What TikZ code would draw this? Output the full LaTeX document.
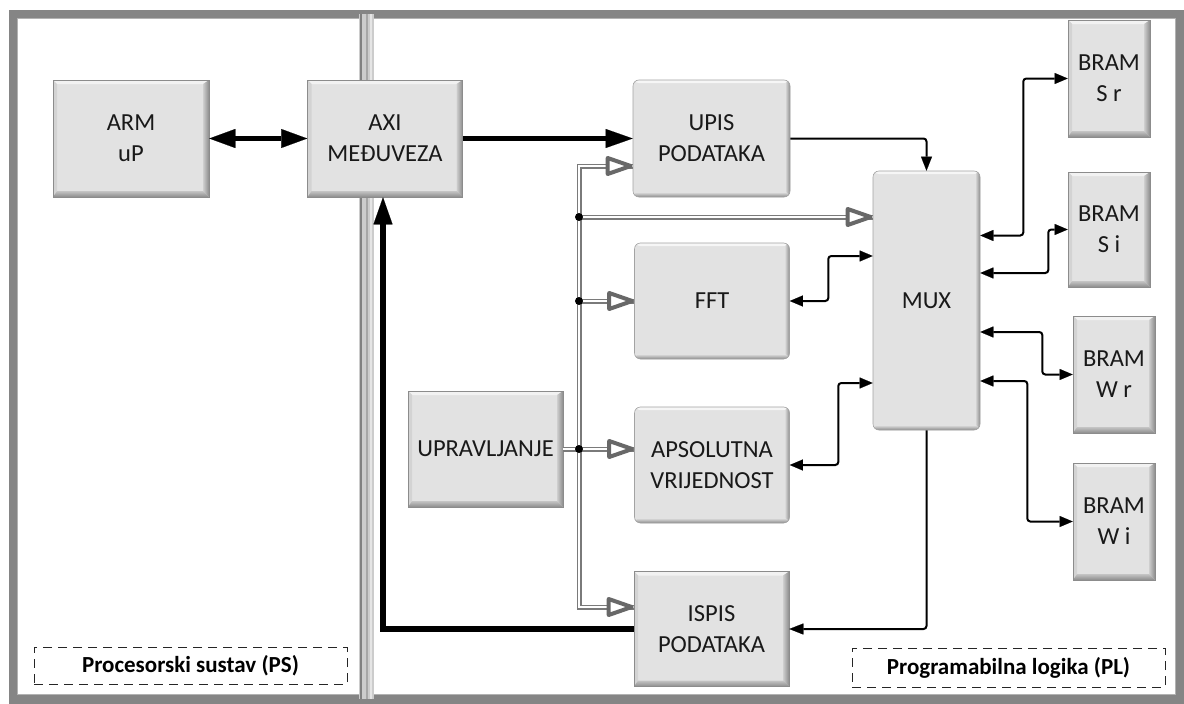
\documentclass[tikz,border=0pt]{standalone}
\usepackage{fontspec}
\setmainfont{Carlito}
\usetikzlibrary{arrows.meta}

\definecolor{face}{HTML}{E2E2E2}
\definecolor{edgegray}{HTML}{8C8C8C}
\definecolor{framegray}{HTML}{858585}
\definecolor{busgray}{HTML}{7A7A7A}
\definecolor{tipgray}{HTML}{686868}

% bevelled (chamfered) block: light top/left, dark right/bottom
\newcommand\bevelbands{%
  \fill[white!55!face] (path picture bounding box.north west) -- (path picture bounding box.north east)
    -- ([xshift=-6pt,yshift=-4pt]path picture bounding box.north east) -- ([xshift=4pt,yshift=-4pt]path picture bounding box.north west) -- cycle;
  \fill[face!85!gray] (path picture bounding box.north west) -- ([xshift=4pt,yshift=-4pt]path picture bounding box.north west)
    -- ([xshift=4pt,yshift=6pt]path picture bounding box.south west) -- (path picture bounding box.south west) -- cycle;
  \shade[left color=face!80!gray, right color=edgegray] (path picture bounding box.north east) -- (path picture bounding box.south east)
    -- ([xshift=-6pt,yshift=6pt]path picture bounding box.south east) -- ([xshift=-6pt,yshift=-4pt]path picture bounding box.north east) -- cycle;
  \shade[top color=face!70!gray, bottom color=edgegray] (path picture bounding box.south west) -- ([xshift=4pt,yshift=6pt]path picture bounding box.south west)
    -- ([xshift=-6pt,yshift=6pt]path picture bounding box.south east) -- (path picture bounding box.south east) -- cycle;
}
% soft rounded block: top highlight, shaded right and bottom edges
\newcommand\softbands{%
  \fill[white!70!face] (path picture bounding box.north west) rectangle ([yshift=-3pt]path picture bounding box.north east);
  \shade[left color=face, right color=edgegray] ([xshift=-5pt]path picture bounding box.north east) rectangle (path picture bounding box.south east);
  \shade[top color=face, bottom color=edgegray] ([yshift=5pt]path picture bounding box.south west) rectangle (path picture bounding box.south east);
}

\tikzset{
  blocktext/.style={font=\fontsize{24.5}{31}\selectfont, align=center, text=black!90, inner sep=0pt},
  bevelblock/.style={blocktext, fill=face, draw=edgegray, line width=0.6pt, path picture={\bevelbands}},
  softblock/.style={blocktext, fill=face, draw=edgegray!80, line width=0.6pt, rounded corners=6pt, path picture={\softbands}},
  tag/.style={draw=black!85, line width=0.8pt, dash pattern=on 9pt off 6pt, inner sep=0pt,
    font=\fontsize{23}{27}\selectfont\bfseries, text=black},
  heavy/.style={line width=5.5pt, -{Triangle[length=27pt,width=19pt,line width=0.1pt]}},
  heavyboth/.style={line width=5.5pt, {Triangle[length=26pt,width=19pt,line width=0.1pt]}-{Triangle[length=26pt,width=19pt,line width=0.1pt]}},
  wire/.style={line width=2pt, rounded corners=3pt, -{Triangle[length=14pt,width=11pt,line width=0.1pt]}},
  wireboth/.style={line width=2pt, rounded corners=3pt, {Triangle[length=13pt,width=11pt,line width=0.1pt]}-{Triangle[length=13pt,width=11pt,line width=0.1pt]}},
  bus/.style={draw=busgray, double=white, line width=1.4pt, double distance=2.2pt},
  hollowhead/.style={draw=tipgray, fill=white, line width=4pt, line join=round},
  joint/.style={circle, fill=black, inner sep=0pt, minimum size=8pt},
}
% open triangular head whose point touches #1
\newcommand\hollowtip[1]{%
  \draw[hollowhead] ([xshift=-2pt]#1) -- ++(-23,-8) -- ++(0,16) -- cycle;}

\begin{document}
\begin{tikzpicture}[x=1pt,y=-1pt]
\useasboundingbox (0,0) rectangle (1184,704);
\fill[white] (0,0) rectangle (1184,704);

% outer frame and the divider between the two panels
\draw[framegray, line width=9pt] (13,14) rectangle (1180,699);
\draw[black!30, line width=0.8pt] (17.8,18.8) rectangle (1175.2,694.2);
\fill[black!20] (359,14) rectangle (374,699);
\draw[black!50, line width=2.5pt] (361,14) -- (361,699);
\draw[black!35, line width=2pt] (367,14) -- (367,699);
\draw[black!10, line width=2.5pt] (371,14) -- (371,699);

% processing system
\node[bevelblock, minimum width=156pt, minimum height=117pt] (arm) at (131,138.5) {ARM\\uP};
\node[bevelblock, minimum width=155pt, minimum height=117pt] (axi) at (385,138.5) {AXI\\MEĐUVEZA};

% programmable logic
\node[softblock, minimum width=157pt, minimum height=117pt] (upis) at (711.5,138.5) {UPIS\\PODATAKA};
\node[softblock, minimum width=155pt, minimum height=116pt] (fft) at (712,301) {FFT};
\node[softblock, minimum width=155pt, minimum height=116pt] (aps) at (712,465) {APSOLUTNA\\VRIJEDNOST};
\node[bevelblock, minimum width=155pt, minimum height=115pt] (ispis) at (711.5,629) {ISPIS\\PODATAKA};
\node[bevelblock, minimum width=155pt, minimum height=116pt] (uprav) at (485.5,449) {UPRAVLJANJE};
\node[softblock, minimum width=107pt, minimum height=259pt] (mux) at (926.5,300.5) {MUX};

\node[bevelblock, minimum width=82pt, minimum height=117pt] (bsr) at (1109,78.5) {BRAM\\S r};
\node[bevelblock, minimum width=82pt, minimum height=115pt] (bsi) at (1109,229.5) {BRAM\\S i};
\node[bevelblock, minimum width=82pt, minimum height=117pt] (bwr) at (1114,374.5) {BRAM\\W r};
\node[bevelblock, minimum width=82pt, minimum height=117pt] (bwi) at (1114,521.5) {BRAM\\W i};

% panel captions
\node[tag, minimum width=313pt, minimum height=37pt] (ps) at (190.5,665.5) {Procesorski sustav (PS)};
\node[tag, minimum width=313pt, minimum height=39pt] (pl) at (1008.5,667.5) {Programabilna logika (PL)};

% AXI data paths
\draw[heavyboth] (arm.east) -- (axi.west);
\draw[heavy] (axi.east) -- (upis.west);
\draw[heavy, line join=miter] (ispis.west) -| ([xshift=-2pt]axi.south);

% data paths around the multiplexer
\draw[wire] (upis.east) -| (mux.north);
\draw[wire] (mux.south) |- (ispis.east);
\draw[wireboth] (fft.east) -- ++(38.5,0) |- ([yshift=44.5pt]mux.west);
\draw[wireboth] (aps.east) -- ++(48.5,0) |- ([yshift=-82.5pt]mux.west);
\draw[wireboth] ([yshift=65pt]mux.east) -- ++(43,0) |- (bsr.west);
\draw[wireboth] ([yshift=27.5pt]mux.east) -- ++(68,0) |- (bsi.west);
\draw[wireboth] ([yshift=-31.5pt]mux.east) -- ++(62,0) |- (bwr.west);
\draw[wireboth] ([yshift=-80.5pt]mux.east) -- ++(47,0) |- (bwi.west);

% control bus from UPRAVLJANJE
\coordinate (btop) at (579,166);
\coordinate (bbot) at (579,607);
\coordinate (jmux) at (579,217);
\coordinate (jfft) at (579,301);
\coordinate (japs) at (579,449);
\coordinate (tupis) at ([yshift=-27.5pt]upis.west);
\coordinate (tmux) at ([yshift=83.5pt]mux.west);
\coordinate (tfft) at (fft.west);
\coordinate (taps) at ([yshift=16pt]aps.west);
\coordinate (tispis) at ([yshift=22pt]ispis.west);

\draw[bus] (tupis) -- (btop) -- (bbot) -- (tispis);
\draw[bus] (jmux) -- (tmux);
\draw[bus] (jfft) -- (tfft);
\draw[bus] (uprav.east) -- (taps);

\hollowtip{tupis}
\hollowtip{tmux}
\hollowtip{tfft}
\hollowtip{taps}
\hollowtip{tispis}

\node[joint] at (jmux) {};
\node[joint] at (jfft) {};
\node[joint] at (japs) {};
\end{tikzpicture}
\end{document}
